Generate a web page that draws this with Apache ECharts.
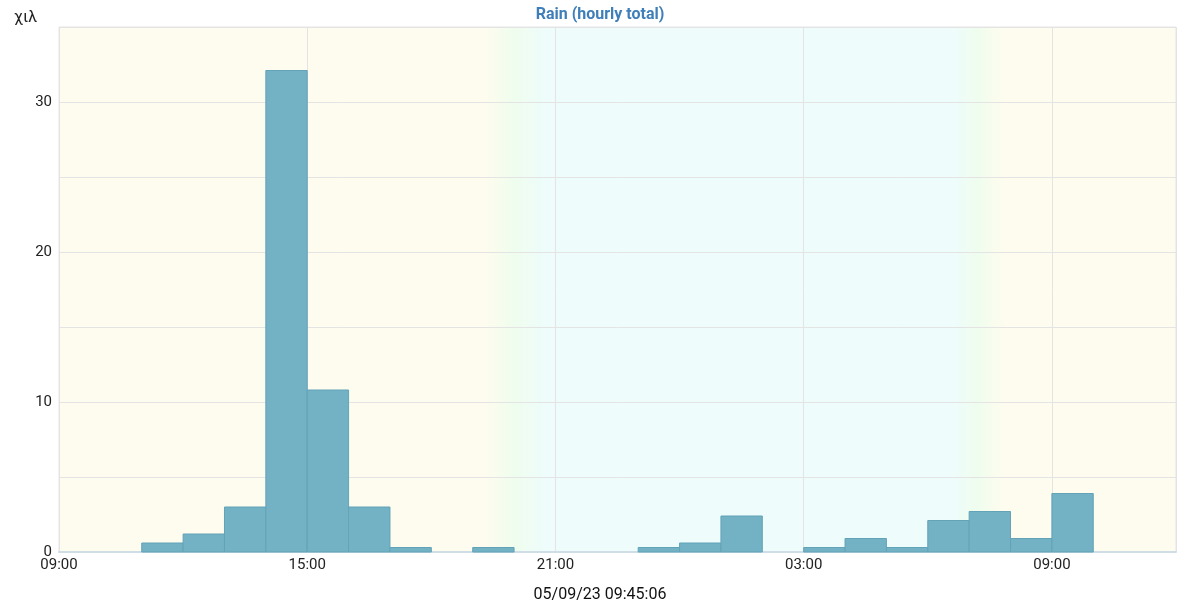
<!DOCTYPE html>
<html>
<head>
<meta charset="utf-8">
<script src="https://cdn.jsdelivr.net/npm/echarts@6/dist/echarts.min.js"></script>
<style>html,body{margin:0;padding:0;background:#fff}#c{width:1200px;height:600px}</style>
</head>
<body>
<div id="c"></div>
<script>
// Hour offsets from 09:00 (start of each hourly bar)
const startHours = [0,1,2,3,4,5,6,7,8,9,10,11,12,13,14,15,16,17,18,19,20,21,22,23,24];
// Hourly rain totals
const rainValues = [0,0,0.6,1.2,3.0,32.1,10.8,3.0,0.3,0,0.3,0,0,0,0.3,0.6,2.4,0,0.3,0.9,0.3,2.1,2.7,0.9,3.9];
const xTickLabels = ['09:00','15:00','21:00','03:00','09:00'];
const yTickLabels = ['0','10','20','30'];
const titleText = 'Rain (hourly total)';
const unitText = 'χιλ';
const stampText = '05/09/23 09:45:06';

const data = startHours.map((h,i)=>[h, rainValues[i]]);
const chart = echarts.init(document.getElementById('c'));
const DAY='#fefcee', GREEN='#effdee', NIGHT='#eefcfc';
chart.setOption({
  animation:false,
  textStyle:{fontFamily:'Roboto'},
  title:[
    {text:titleText,left:'center',top:2,textStyle:{color:'#3f7fb9',fontSize:16,fontWeight:'bold',fontFamily:'Roboto'}},
    {text:unitText,left:9,top:5,textStyle:{color:'#222',fontSize:16,fontWeight:'normal',fontFamily:'Roboto'}},
    {text:stampText,left:'center',top:582,textStyle:{color:'#111',fontSize:16,fontWeight:'normal',fontFamily:'Roboto'}}
  ],
  grid:{left:59,right:24,top:27,bottom:48,show:true,borderColor:'#e4e4e4',borderWidth:1,
    backgroundColor:new echarts.graphic.LinearGradient(0,0,1,0,[
      {offset:0,color:DAY},{offset:0.381,color:DAY},{offset:0.408,color:GREEN},{offset:0.437,color:NIGHT},
      {offset:0.800,color:NIGHT},{offset:0.822,color:GREEN},{offset:0.845,color:DAY},{offset:1,color:DAY}])},
  xAxis:{type:'value',min:0,max:27,interval:6,
    axisLine:{show:true,lineStyle:{color:'#cfdde6',width:2}},
    axisTick:{show:false},
    splitLine:{show:true,lineStyle:{color:'#e4e4e4'}},
    axisLabel:{color:'#222',fontSize:15,margin:6,
      formatter:v=>{const i=Math.round(v/6);return (v%6===0&&i<xTickLabels.length)?xTickLabels[i]:'';}}
  },
  yAxis:{type:'value',min:0,max:35,interval:5,
    axisLine:{show:false},axisTick:{show:false},
    splitLine:{show:true,lineStyle:{color:'#e4e4e4'}},
    axisLabel:{color:'#222',fontSize:15,margin:7,
      formatter:v=>{if(v%10!==0)return '';const i=v/10;return i<yTickLabels.length?yTickLabels[i]:'';}}
  },
  series:[{
    type:'custom',
    data:data,
    encode:{x:0,y:1},
    renderItem:(params,api)=>{
      const h=api.value(0), v=api.value(1);
      if(!v) return null;
      const p0=api.coord([h,0]), p1=api.coord([h+1,v]);
      return {type:'rect',shape:{x:p0[0],y:p1[1],width:p1[0]-p0[0],height:p0[1]-p1[1]},
        style:{fill:'#73b1c4',stroke:'#63a3b8',lineWidth:1}};
    }
  }]
});
</script>
</body>
</html>
